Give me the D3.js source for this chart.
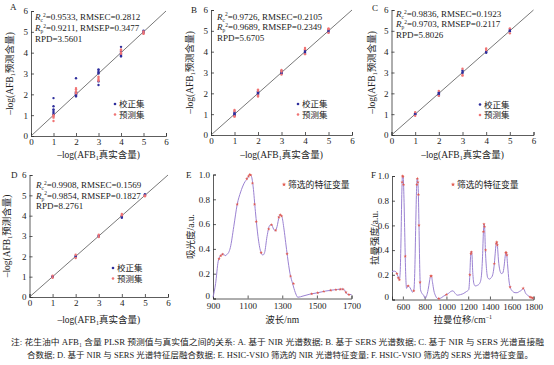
<!DOCTYPE html>
<html><head><meta charset="utf-8">
<script src="https://cdn.jsdelivr.net/npm/d3@7"></script>
<style>
body{margin:0;background:#fff;}
svg{display:block;font-family:"Liberation Serif","Times New Roman","Noto Sans CJK SC",serif;}
</style></head><body>
<svg id="c" width="554" height="365"></svg>
<script>
// ---------- data ----------
const scatterTicks = [0,1,2,3,4,5,6];
const aCal = [[1,1.82],[1,1.43],[1,1.28],[1,1.2],[1,1.12],[1,1.05],[2,2.77],[2,2.1],[2,2.05],[2,2.0],[2,1.95],[2,1.9],[3,3.2],[3,3.12],[3,3.05],[3,3.0],[3,2.62],[3,2.45],[4,4.28],[4,4.05],[4,3.95],[4,3.9],[4,3.85],[4,3.82],[5,5.05],[5,5.0],[5,4.95]];
const aPre = [[1,1.0],[1,0.95],[1,0.88],[1,0.72],[2,2.3],[2,2.25],[2,2.15],[2,2.05],[3,2.85],[3,2.78],[3,2.7],[3,2.65],[4,4.15],[4,4.1],[4,4.0],[4,3.95],[5,4.95],[5,4.9],[5,5.02]];
const bCal = [[1,1.1],[1,1.05],[1,1.0],[1,0.95],[2,2.1],[2,2.05],[2,2.0],[2,1.95],[3,3.08],[3,3.02],[3,2.98],[3,2.95],[4,4.05],[4,4.0],[4,3.95],[4,3.9],[5,5.05],[5,5.0],[5,4.95]];
const bPre = [[1,1.2],[1,1.15],[1,0.9],[1,0.88],[2,2.18],[2,2.12],[2,1.85],[2,1.9],[3,3.12],[3,3.05],[3,2.9],[4,4.18],[4,4.12],[4,3.88],[5,5.12],[5,5.08],[5,4.9]];
const cCal = [[1,1.05],[1,1.0],[1,0.98],[2,2.05],[2,2.0],[2,1.95],[2,1.9],[3,3.1],[3,3.02],[3,2.98],[4,4.0],[4,3.98],[4,3.95],[5,5.05],[5,5.0],[5,4.98]];
const cPre = [[1,1.1],[1,0.92],[2,2.12],[2,1.88],[3,3.18],[3,2.88],[3,2.85],[4,4.15],[4,4.08],[5,5.12],[5,4.88]];
const dCal = [[1,1.02],[1,0.98],[2,2.02],[2,1.98],[3,3.02],[3,2.98],[4,4.0],[4,3.95],[4,3.9],[5,5.05],[5,5.0]];
const dPre = [[1,1.05],[1,0.95],[2,2.08],[2,1.92],[3,3.06],[3,2.95],[4,4.08],[4,4.02],[5,5.0],[5,4.95]];
const statsA = ["0.9533","0.2812","0.9211","0.3477","3.5601"];
const statsB = ["0.9726","0.2105","0.9689","0.2349","5.6705"];
const statsC = ["0.9836","0.1923","0.9703","0.2117","5.8026"];
const statsD = ["0.9908","0.1569","0.9854","0.1827","8.2761"];

const nirX = [900,915,930,940,950,960,970,980,990,1000,1020,1040,1060,1080,1100,1112,1122,1132,1145,1160,1175,1188,1198,1212,1228,1238,1250,1260,1270,1282,1290,1298,1310,1320,1330,1345,1360,1375,1390,1420,1460,1500,1550,1600,1640,1655,1665,1680,1700];
const nirY = [0.01,0.12,0.30,0.34,0.355,0.36,0.345,0.355,0.37,0.41,0.58,0.76,0.86,0.93,0.97,1.0,0.985,0.90,0.70,0.50,0.38,0.35,0.37,0.50,0.59,0.595,0.56,0.545,0.58,0.66,0.675,0.66,0.56,0.45,0.34,0.20,0.12,0.05,0.01,0.02,0.035,0.045,0.06,0.07,0.075,0.075,0.055,0.032,0.032];
const nirSelX = [935,945,955,1040,1095,1105,1112,1118,1128,1140,1150,1178,1222,1238,1262,1280,1288,1296,1328,1348,1365,1470,1505,1540,1580,1610,1635,1650,1668,1685];
const nirSelY = [0.32,0.345,0.357,0.76,0.965,0.985,1.0,0.995,0.93,0.76,0.62,0.37,0.56,0.595,0.55,0.655,0.675,0.665,0.36,0.18,0.12,0.037,0.046,0.057,0.066,0.071,0.074,0.075,0.05,0.032];

const ramanX = [500,520,535,548,560,568,575,583,590,596,603,610,618,626,634,645,658,672,688,700,710,718,726,733,740,748,755,762,775,790,805,818,832,845,855,862,872,885,900,920,945,970,1000,1020,1040,1060,1080,1100,1130,1160,1185,1205,1215,1222,1228,1234,1242,1252,1265,1285,1305,1320,1332,1340,1345,1351,1358,1368,1380,1395,1410,1425,1438,1448,1456,1462,1469,1478,1490,1505,1518,1530,1540,1546,1553,1562,1575,1590,1610,1630,1650,1670,1690,1705,1715,1725,1745,1770,1800];
const ramanY = [0.225,0.23,0.225,0.205,0.17,0.16,0.22,0.5,0.85,1.0,0.99,0.82,0.5,0.2,0.09,0.11,0.105,0.085,0.06,0.07,0.25,0.6,0.9,0.98,0.92,0.6,0.25,0.08,0.05,0.035,0.01,0.03,0.08,0.15,0.19,0.19,0.14,0.07,0.03,0.008,0.01,0.025,0.04,0.05,0.065,0.07,0.05,0.035,0.04,0.05,0.065,0.08,0.2,0.35,0.39,0.37,0.22,0.13,0.11,0.115,0.13,0.18,0.35,0.55,0.61,0.58,0.4,0.25,0.175,0.165,0.175,0.2,0.27,0.37,0.45,0.465,0.43,0.32,0.24,0.21,0.215,0.27,0.35,0.385,0.37,0.28,0.15,0.09,0.065,0.055,0.055,0.065,0.075,0.09,0.08,0.055,0.035,0.02,0.008];
const ramanSelX = [545,558,568,593,597,601,606,622,648,700,728,733,738,743,748,758,856,862,930,1000,1215,1225,1230,1340,1345,1350,1360,1440,1458,1463,1468,1545,1550,1556,1585,1705,1768,1782,1792];
const ramanSelY = [0.21,0.175,0.16,0.95,1.0,0.995,0.93,0.35,0.11,0.07,0.93,0.98,0.95,0.85,0.6,0.14,0.19,0.19,0.008,0.04,0.2,0.37,0.385,0.55,0.61,0.59,0.4,0.29,0.455,0.465,0.44,0.38,0.38,0.36,0.1,0.09,0.02,0.015,0.012];

const specTicksY = [0,0.2,0.4,0.6,0.8,1.0];
const nirTicksX = [900,1100,1300,1500,1700];
const ramanTicksX = [600,800,1000,1200,1400,1600,1800];

const caption1 = "注: 花生油中 AFB₁ 含量 PLSR 预测值与真实值之间的关系: A. 基于 NIR 光谱数据; B. 基于 SERS 光谱数据; C. 基于 NIR 与 SERS 光谱直接融";
const caption2 = "合数据; D. 基于 NIR 与 SERS 光谱特征层融合数据; E. HSIC-VSIO 筛选的 NIR 光谱特征变量; F. HSIC-VSIO 筛选的 SERS 光谱特征变量。";

// ---------- drawing ----------
const svg = d3.select("#c");
const AX = "#333", BLUE = "#2e2e9c", RED = "#f07474", LINE = "#9b82d2", STAR = "#e25a4e";

function styleAxis(g){
  g.select(".domain").attr("stroke", AX).attr("stroke-width", 0.8);
  g.selectAll(".tick line").attr("stroke", AX).attr("stroke-width", 0.8);
  g.selectAll(".tick text").attr("fill", "#222").attr("font-size", 9).attr("font-family", "Liberation Serif");
}

function afbTitle(g, x, y, rot, pre, post){
  const t = g.append("text").attr("x", x).attr("y", y).attr("font-size", 9.5).attr("fill", "#222")
    .attr("text-anchor", "middle");
  if (rot) t.attr("transform", `rotate(-90,${x},${y})`);
  t.append("tspan").text(pre);
  t.append("tspan").attr("font-size", 6).attr("dy", 2).text("1");
  t.append("tspan").attr("dy", -2).text(post);
}

function scatterPanel(c){
  const g = svg.append("g");
  const x = d3.scaleLinear().domain([0,6]).range([c.x0, c.x1]);
  const y = d3.scaleLinear().domain([0,6]).range([c.y0, c.y1]);
  g.append("g").attr("transform", `translate(0,${c.y0})`)
    .call(d3.axisBottom(x).tickValues(scatterTicks).tickSize(-3).tickPadding(3).tickFormat(d3.format("d"))).call(styleAxis);
  g.append("g").attr("transform", `translate(${c.x0},0)`)
    .call(d3.axisLeft(y).tickValues(scatterTicks).tickSize(-3).tickPadding(3).tickFormat(d3.format("d"))).call(styleAxis);
  g.append("line").attr("x1", x(0)).attr("y1", y(0)).attr("x2", x(6)).attr("y2", y(6))
    .attr("stroke", "#555").attr("stroke-width", 0.8);
  g.selectAll(".cal").data(c.cal).join("circle").attr("cx", d => x(d[0])).attr("cy", d => y(d[1]))
    .attr("r", 1.2).attr("fill", BLUE);
  g.selectAll(".pre").data(c.pre).join("circle").attr("cx", d => x(d[0])).attr("cy", d => y(d[1]))
    .attr("r", 1.2).attr("fill", RED);
  // stats
  const s = c.stats, fs = 9;
  const l1 = g.append("text").attr("x", c.sx).attr("y", c.sy).attr("font-size", fs).attr("fill", "#222");
  l1.append("tspan").attr("font-style", "italic").text("R");
  l1.append("tspan").attr("font-size", 5.5).attr("dy", 2).text("c");
  l1.append("tspan").attr("font-size", 5.5).attr("dy", -5.5).text("2");
  l1.append("tspan").attr("dy", 3.5).text(`=${s[0]}, RMSEC=${s[1]}`);
  const l2 = g.append("text").attr("x", c.sx).attr("y", c.sy + c.sdy).attr("font-size", fs).attr("fill", "#222");
  l2.append("tspan").attr("font-style", "italic").text("R");
  l2.append("tspan").attr("font-size", 5.5).attr("dy", 2).text("p");
  l2.append("tspan").attr("font-size", 5.5).attr("dy", -5.5).text("2");
  l2.append("tspan").attr("dy", 3.5).text(`=${s[2]}, RMSEP=${s[3]}`);
  g.append("text").attr("x", c.sx).attr("y", c.sy + 2*c.sdy).attr("font-size", fs).attr("fill", "#222").text(`RPD=${s[4]}`);
  // legend
  g.append("circle").attr("cx", c.lx).attr("cy", c.ly).attr("r", 1.3).attr("fill", BLUE);
  g.append("circle").attr("cx", c.lx).attr("cy", c.ly + 10.5).attr("r", 1.3).attr("fill", RED);
  g.append("text").attr("x", c.lx + 4).attr("y", c.ly + 3).attr("font-size", 8.5).attr("fill", "#222").text("校正集");
  g.append("text").attr("x", c.lx + 4).attr("y", c.ly + 13.5).attr("font-size", 8.5).attr("fill", "#222").text("预测集");
  // label + titles
  g.append("text").attr("x", c.px).attr("y", c.py).attr("font-size", 9).attr("fill", "#222").text(c.label);
  afbTitle(g, (c.x0 + c.x1)/2, c.xty, false, "–log(AFB", "真实含量)");
  afbTitle(g, c.ytx, (c.y0 + c.y1)/2, true, "–log(AFB", "预测含量)");
}

scatterPanel({label:"A", px:10, py:10, x0:31, x1:166, y0:136, y1:11, cal:aCal, pre:aPre, stats:statsA, sx:35, sy:20, sdy:11, lx:115, ly:104, xty:158, ytx:13});
scatterPanel({label:"B", px:191, py:13, x0:211, x1:352, y0:135, y1:10, cal:bCal, pre:bPre, stats:statsB, sx:217, sy:19.5, sdy:10.5, lx:298, ly:104, xty:158, ytx:193});
scatterPanel({label:"C", px:372, py:11, x0:391.5, x1:533.5, y0:135, y1:10, cal:cCal, pre:cPre, stats:statsC, sx:396, sy:17, sdy:10.3, lx:480, ly:104.5, xty:158, ytx:375});
scatterPanel({label:"D", px:11, py:178, x0:29.5, x1:168, y0:297, y1:175, cal:dCal, pre:dPre, stats:statsD, sx:36, sy:188, sdy:10.5, lx:113, ly:268, xty:323, ytx:10});

function specPanel(c){
  const g = svg.append("g");
  const x = d3.scaleLinear().domain(c.dom).range([c.x0, c.x1]);
  const y = d3.scaleLinear().domain([0,1]).range([c.y0, c.y1]);
  g.append("g").attr("transform", `translate(0,${c.y0})`)
    .call(d3.axisBottom(x).tickValues(c.ticks).tickSize(-3).tickPadding(4).tickFormat(d3.format("d"))).call(styleAxis);
  const ya = g.append("g").attr("transform", `translate(${c.x0},0)`)
    .call(d3.axisLeft(y).tickValues(specTicksY).tickSize(-3).tickPadding(3).tickFormat(d => d === 0 ? "0" : d3.format(".1f")(d))).call(styleAxis);
  ya.selectAll(".tick text").filter(d => d === 0).attr("dy", "0.05em");
  const pts = c.xs.map((v,i) => [v, c.ys[i]]);
  g.append("path").datum(pts).attr("fill", "none").attr("stroke", LINE).attr("stroke-width", 1)
    .attr("d", d3.line().x(d => x(d[0])).y(d => y(d[1])).curve(d3.curveMonotoneX));
  const sel = c.sx.map((v,i) => [v, c.sy[i]]);
  const star = d3.symbol(d3.symbolStar).size(3.5);
  g.selectAll(".st").data(sel).join("path").attr("d", star)
    .attr("transform", d => `translate(${x(d[0])},${y(d[1])})`).attr("fill", STAR);
  g.append("path").attr("d", d3.symbol(d3.symbolStar).size(6)).attr("transform", `translate(${c.lx},${c.ly})`).attr("fill", STAR);
  g.append("text").attr("x", c.lx + 4).attr("y", c.ly + 3).attr("font-size", 8.8).attr("fill", "#222").text("筛选的特征变量");
  g.append("text").attr("x", c.px).attr("y", c.py).attr("font-size", 9).attr("fill", "#222").text(c.label);
  g.append("text").attr("x", (c.x0 + c.x1)/2).attr("y", 323).attr("text-anchor", "middle").attr("font-size", 9.5).attr("fill", "#222")
    .call(t => { t.append("tspan").text(c.xt); if (c.xsup) t.append("tspan").attr("font-size", 6).attr("dy", -4).text(c.xsup); });
  const yc = (c.y0 + c.y1)/2;
  g.append("text").attr("x", c.ytx).attr("y", yc).attr("text-anchor", "middle").attr("font-size", 9.5).attr("fill", "#222")
    .attr("transform", `rotate(-90,${c.ytx},${yc})`).text(c.yt);
}

specPanel({label:"E", px:186, py:178, x0:213, x1:351.5, y0:298.5, y1:174.5, dom:[900,1700], ticks:nirTicksX, xs:nirX, ys:nirY, sx:nirSelX, sy:nirSelY, lx:284, ly:184.5, xt:"波长/nm", xsup:null, yt:"吸光度/a.u.", ytx:194});
specPanel({label:"F", px:371, py:178, x0:392, x1:533.5, y0:299.5, y1:176, dom:[500,1800], ticks:ramanTicksX, xs:ramanX, ys:ramanY, sx:ramanSelX, sy:ramanSelY, lx:453, ly:184.5, xt:"拉曼位移/cm", xsup:"−1", yt:"拉曼强度/a.u.", ytx:378});

// caption
svg.append("text").attr("x", 11).attr("y", 345).attr("font-size", 8).attr("fill", "#222")
  .attr("textLength", 533).attr("lengthAdjust", "spacingAndGlyphs").text(caption1);
svg.append("text").attr("x", 27).attr("y", 358).attr("font-size", 8).attr("fill", "#222")
  .attr("textLength", 506).attr("lengthAdjust", "spacingAndGlyphs").text(caption2);
</script>
</body></html>
